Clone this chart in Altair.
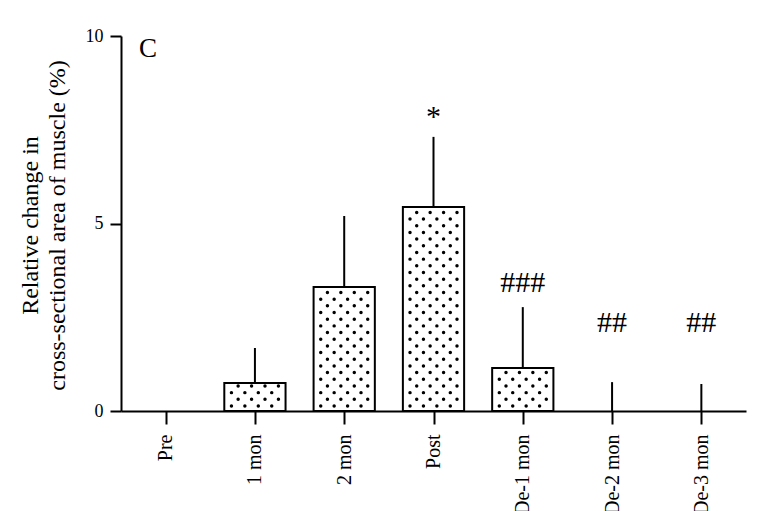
import json
import altair as alt
import pandas as pd

# ---- data ----
categories = ["Pre", "1 mon", "2 mon", "Post", "De-1 mon", "De-2 mon", "De-3 mon"]
means = [0.0, 0.75, 3.31, 5.44, 1.15, 0.0, 0.0]
errors = [0.0, 0.93, 1.89, 1.87, 1.62, 0.77, 0.72]
sig_labels = ["", "", "", "*", "###", "##", "##"]
sig_heights = [0.0, 0.0, 0.0, 7.85, 3.41, 2.35, 2.35]

FONT = "Liberation Serif"
HALF = 0.343  # half bar width in category units

df = pd.DataFrame({
    "cat": categories,
    "idx": list(range(len(categories))),
    "mean": means,
    "err": errors,
    "sig": sig_labels,
    "sig_y": sig_heights,
})
df["lo"] = df["idx"] - HALF
df["hi"] = df["idx"] + HALF
df["top"] = df["mean"] + df["err"]
df["zero"] = 0.0

# stipple pattern inside each bar, derived from the bar values
dot_rows = []
DX = 0.0752   # ~6.7 px
DY = 0.178    # ~6.7 px
for i, m in enumerate(means):
    if m <= 0:
        continue
    r = 0
    y = 0.134
    while y < m - 0.05:
        start = -0.263 if r % 2 == 0 else -0.188
        for k in range(4):
            off = start + k * 2 * DX
            dot_rows.append({"x": i + off, "y": y})
        r += 1
        y += DY
dots = pd.DataFrame(dot_rows)

label_expr = json.dumps(categories) + "[datum.value]"

x_scale = alt.Scale(domain=[-0.5, 6.5], nice=False, zero=False)
y_scale = alt.Scale(domain=[0, 10], nice=False)

x_axis = alt.Axis(
    values=list(range(len(categories))),
    labelExpr=label_expr,
    labelAngle=-90,
    labelFontSize=20,
    labelPadding=10,
    tickSize=13,
    title=None,
    grid=False,
)
y_axis = alt.Axis(
    values=[0, 5, 10],
    labelFontSize=18,
    labelPadding=7,
    tickSize=11,
    grid=False,
    title=["Relative change in", "cross-sectional area of muscle (%)"],
    titleFontSize=24,
    titleFont=FONT,
    titleFontWeight="normal",
    titleColor="black",
    titleAngle=-90,
    titleAlign="center",
    titleBaseline="bottom",
    titleX=-79,
    titleY=189,
    titleLineHeight=27,
)

base = alt.Chart(df)

bars = base.transform_filter("datum.mean > 0").mark_rect(
    fill="white", stroke="black", strokeWidth=2
).encode(
    x=alt.X("lo:Q", scale=x_scale, axis=x_axis),
    x2="hi:Q",
    y=alt.Y("mean:Q", scale=y_scale, axis=y_axis),
    y2="zero:Q",
)

dot_layer = alt.Chart(dots).mark_circle(color="black", opacity=1, size=12).encode(
    x=alt.X("x:Q", scale=x_scale),
    y=alt.Y("y:Q", scale=y_scale),
)

err_rules = base.transform_filter("datum.err > 0").mark_rule(
    color="black", strokeWidth=2
).encode(
    x=alt.X("idx:Q", scale=x_scale),
    y=alt.Y("mean:Q", scale=y_scale),
    y2="top:Q",
)

sig_text = base.transform_filter("datum.sig != ''").mark_text(
    font=FONT, fontSize=30, color="black", baseline="middle", align="center"
).encode(
    x=alt.X("idx:Q", scale=x_scale),
    y=alt.Y("sig_y:Q", scale=y_scale),
    text="sig:N",
)

panel = alt.Chart(pd.DataFrame({"t": ["C"]})).mark_text(
    font=FONT, fontSize=27, color="black", baseline="middle", align="center"
).encode(
    x=alt.value(27),
    y=alt.value(13),
    text="t:N",
)

chart = alt.layer(bars, dot_layer, err_rules, sig_text, panel).properties(
    width=625,
    height=375,
    autosize="none",
    padding={"left": 121, "top": 36, "right": 34, "bottom": 100},
    background="white",
).configure_view(
    stroke=None
).configure_axis(
    domainColor="black",
    domainWidth=2,
    tickColor="black",
    tickWidth=2,
    labelFont=FONT,
    labelColor="black",
)

chart.save("out.html", embed_options={"renderer": "svg", "actions": False})
